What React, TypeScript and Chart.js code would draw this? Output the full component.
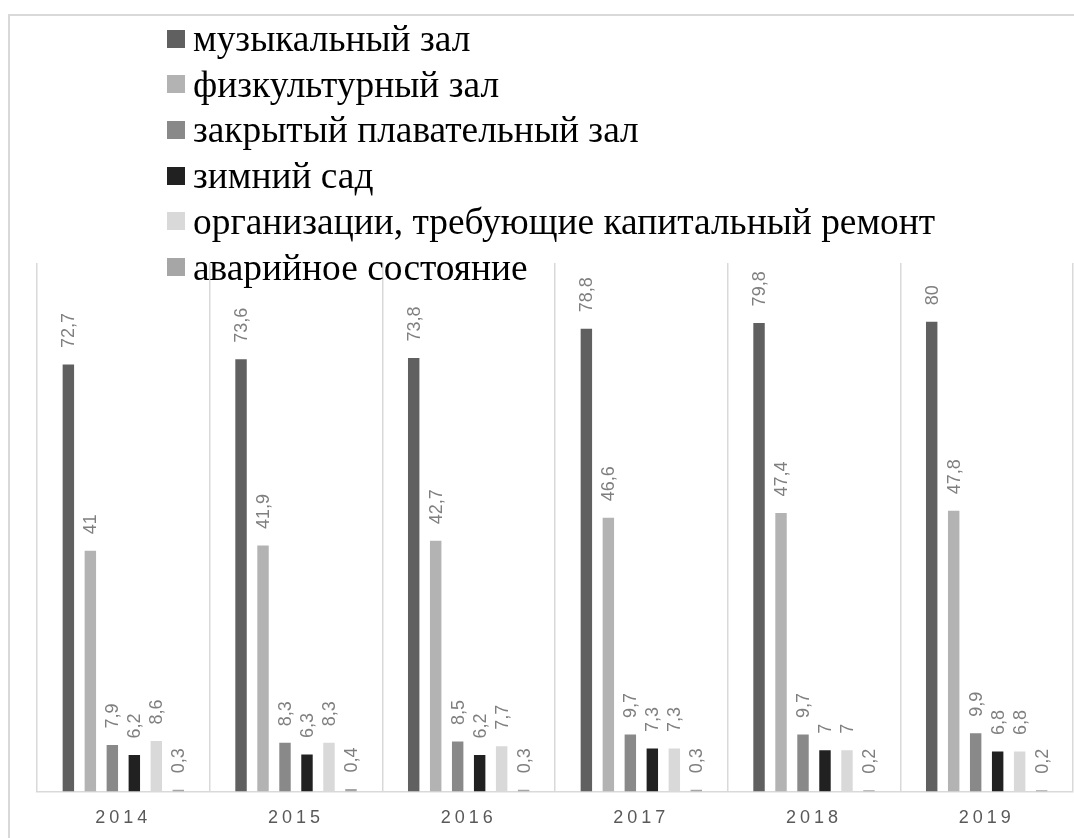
import React, { useEffect, useRef } from "react";
import { Chart, registerables } from "chart.js";

Chart.register(...registerables);

const categories = ["2014", "2015", "2016", "2017", "2018", "2019"];
const seriesNames = [
  "музыкальный зал",
  "физкультурный зал",
  "закрытый плавательный зал",
  "зимний сад",
  "организации, требующие капитальный ремонт",
  "аварийное состояние",
];
const music = [72.7, 73.6, 73.8, 78.8, 79.8, 80];
const sport = [41, 41.9, 42.7, 46.6, 47.4, 47.8];
const pool = [7.9, 8.3, 8.5, 9.7, 9.7, 9.9];
const garden = [6.2, 6.3, 6.2, 7.3, 7, 6.8];
const repair = [8.6, 8.3, 7.7, 7.3, 7, 6.8];
const emergency = [0.3, 0.4, 0.3, 0.3, 0.2, 0.2];
const seriesValues = [music, sport, pool, garden, repair, emergency];
const colors = ["#606060", "#b3b3b3", "#898989", "#212121", "#d9d9d9", "#a6a6a6"];

const labelPlugin = {
  id: "barLabels",
  beforeDraw(chart: any) {
    (chart.ctx as any).letterSpacing = "4px";
  },
  afterDatasetsDraw(chart: any) {
    const ctx = chart.ctx;
    ctx.save();
    (ctx as any).letterSpacing = "0px";
    ctx.font = '18px "Liberation Sans", Arial, sans-serif';
    ctx.fillStyle = "#7f7f7f";
    ctx.textAlign = "left";
    ctx.textBaseline = "middle";
    chart.data.datasets.forEach((ds: any, i: number) => {
      const meta = chart.getDatasetMeta(i);
      meta.data.forEach((bar: any, j: number) => {
        const v = ds.data[j];
        const txt = String(v).replace(".", ",");
        ctx.save();
        ctx.translate(bar.x + 1, bar.y - 16.5);
        ctx.rotate(-Math.PI / 2);
        ctx.fillText(txt, 0, 0);
        ctx.restore();
      });
    });
    ctx.restore();
  },
  afterDraw(chart: any) {
    (chart.ctx as any).letterSpacing = "0px";
  },
};

export default function App() {
  const ref = useRef<HTMLCanvasElement | null>(null);
  useEffect(() => {
    if (!ref.current) return;
    const chart = new Chart(ref.current, {
      type: "bar",
      data: {
        labels: categories,
        datasets: seriesValues.map((vals, i) => ({
          label: seriesNames[i],
          data: vals,
          backgroundColor: colors[i],
          borderWidth: 0,
          categoryPercentage: 0.764,
          barPercentage: 0.52,
        })),
      },
      options: {
        animation: false,
        responsive: false,
        maintainAspectRatio: false,
        layout: { padding: { left: 37, right: 1, top: 263, bottom: -7 } },
        plugins: { legend: { display: false }, tooltip: { enabled: false } },
        scales: {
          x: {
            grid: {
              display: true,
              color: "#d9d9d9",
              lineWidth: 1.5,
              offset: true,
              drawTicks: false,
            },
            border: { display: true, color: "#d9d9d9", width: 1.5 },
            ticks: {
              color: "#595959",
              font: { family: '"Liberation Sans", Arial, sans-serif', size: 18 },
              padding: 16,
            },
          },
          y: {
            display: false,
            min: 0,
            max: 90,
          },
        },
      },
      plugins: [labelPlugin],
    });
    return () => chart.destroy();
  }, []);

  return (
    <div
      style={{
        position: "fixed",
        left: 0,
        top: 0,
        width: 1074,
        height: 838,
        overflow: "hidden",
        background: "#fff",
      }}
    >
      <div
        style={{
          position: "absolute",
          left: 8,
          top: 14,
          width: 1200,
          height: 1000,
          border: "2px solid #d9d9d9",
        }}
      />
      <canvas
        ref={ref}
        width={1074}
        height={838}
        style={{ position: "absolute", left: 0, top: 0, width: 1074, height: 838 }}
      />
      {seriesNames.map((name, i) => (
        <div
          key={name}
          style={{
            position: "absolute",
            left: 167,
            top: 38.5 + i * 45.7 - 22,
            height: 44,
            display: "flex",
            alignItems: "center",
            whiteSpace: "nowrap",
            fontFamily: '"Liberation Serif", "Times New Roman", serif',
            fontSize: 37.4,
            color: "#000",
          }}
        >
          <span
            style={{
              display: "inline-block",
              width: 18,
              height: 18,
              background: colors[i],
              marginRight: 8,
            }}
          />
          <span>{name}</span>
        </div>
      ))}
    </div>
  );
}
